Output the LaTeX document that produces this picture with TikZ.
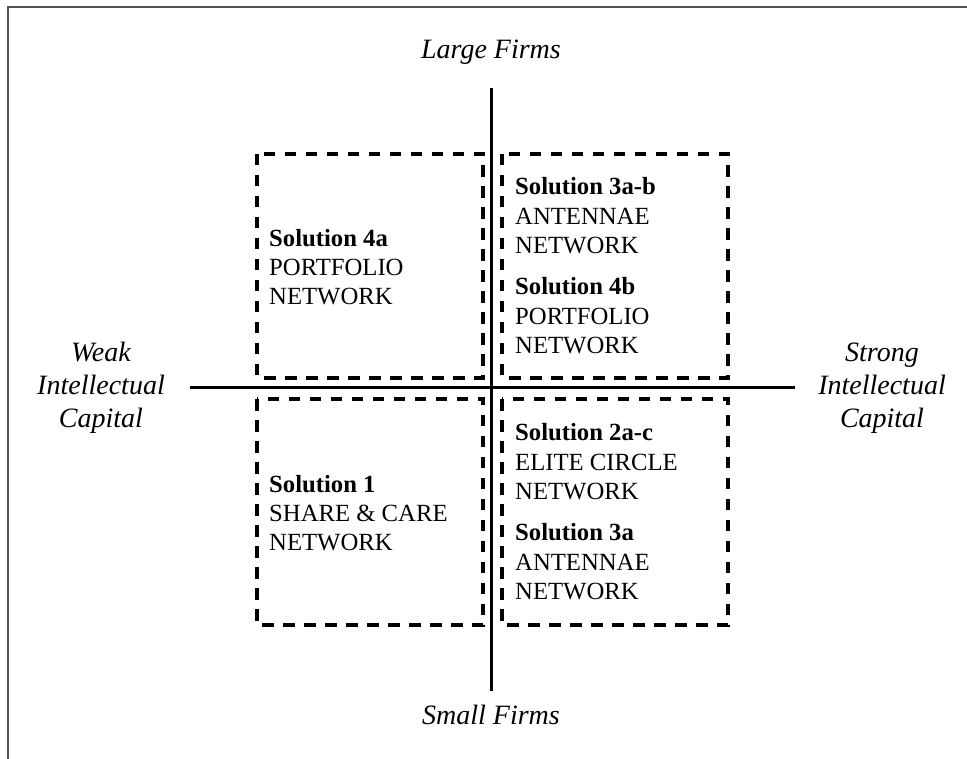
\documentclass[tikz,border=0pt]{standalone}
\usepackage{fontspec}
\setmainfont{Liberation Serif}
\begin{document}
\begin{tikzpicture}[x=1pt,y=-1pt,
  axis/.style={line width=3pt,black},
  quad/.style={draw,line width=3.2pt,dash pattern=on 11.5pt off 9.5pt},
  body/.style={anchor=base west,inner sep=0pt,font=\fontsize{24.7}{29}\selectfont},
  head/.style={body,font=\fontsize{24.7}{29}\selectfont\bfseries},
  lab/.style={anchor=base,inner sep=0pt,font=\fontsize{28}{32}\selectfont\itshape}]
\useasboundingbox (0,0) rectangle (967,759);
% frame
\draw[line width=1.8pt,color=black!68] (8,759) -- (8,7) -- (967,7);
% axes
\coordinate (vt) at (491,88);
\coordinate (vb) at (491,691);
\coordinate (hl) at (190,388);
\coordinate (hr) at (795,388);
\draw[axis] (vt) -- (vb);
\draw[axis] (hl) -- (hr);
% quadrant boxes
\draw[quad] (257,154) rectangle (483,378);
\draw[quad] (502,154) rectangle (728,378);
\draw[quad] (257,399) rectangle (483,625);
\draw[quad] (502,399) rectangle (728,625);
% axis labels
\node[lab] (large) at (491,59) {Large Firms};
\node[lab] (small) at (491,724) {Small Firms};
\node[lab] (w1) at (101,362) {Weak};
\node[lab] (w2) at (101,395) {Intellectual};
\node[lab] (w3) at (101,428) {Capital};
\node[lab] (s1) at (882,362) {Strong};
\node[lab] (s2) at (882,395) {Intellectual};
\node[lab] (s3) at (882,428) {Capital};
% top-left
\node[head] (tl1) at (269,247) {Solution 4a};
\node[body] (tl2) at (269,276) {PORTFOLIO};
\node[body] (tl3) at (269,305) {NETWORK};
% top-right
\node[head] (tr1) at (515,195) {Solution 3a-b};
\node[body] (tr2) at (515,225) {ANTENNAE};
\node[body] (tr3) at (515,254) {NETWORK};
\node[head] (tr4) at (515,295) {Solution 4b};
\node[body] (tr5) at (515,325) {PORTFOLIO};
\node[body] (tr6) at (515,354) {NETWORK};
% bottom-left
\node[head] (bl1) at (269,492) {Solution 1};
\node[body] (bl2) at (269,521) {SHARE \& CARE};
\node[body] (bl3) at (269,550) {NETWORK};
% bottom-right
\node[head] (br1) at (515,440) {Solution 2a-c};
\node[body] (br2) at (515,470) {ELITE CIRCLE};
\node[body] (br3) at (515,499) {NETWORK};
\node[head] (br4) at (515,540) {Solution 3a};
\node[body] (br5) at (515,570) {ANTENNAE};
\node[body] (br6) at (515,599) {NETWORK};
\end{tikzpicture}
\end{document}
